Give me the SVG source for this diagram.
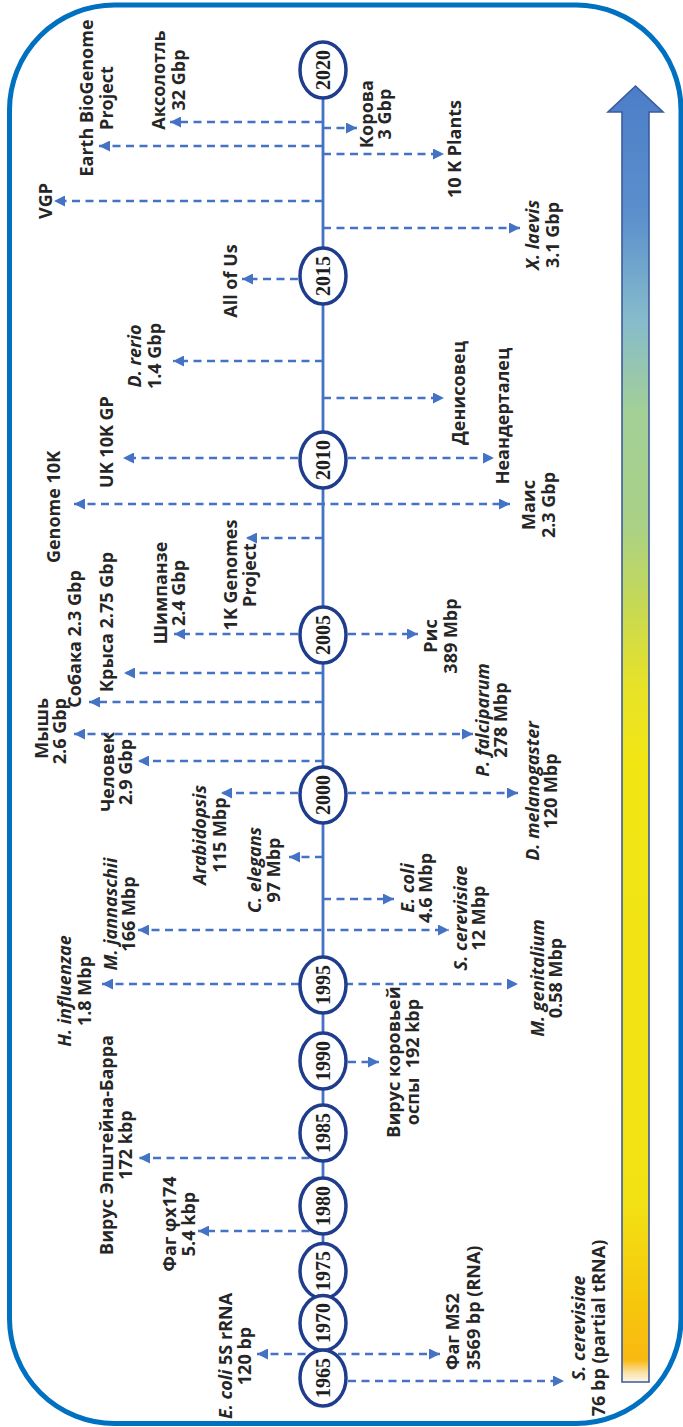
<svg xmlns="http://www.w3.org/2000/svg" width="683" height="1427" viewBox="0 0 683 1427">
<defs>
  <linearGradient id="scale" x1="0" y1="86" x2="0" y2="1382" gradientUnits="userSpaceOnUse">
    <stop offset="0" stop-color="#4b7ec8"/>
    <stop offset="0.1" stop-color="#5b90cd"/>
    <stop offset="0.18" stop-color="#86bbcc"/>
    <stop offset="0.25" stop-color="#a3cf98"/>
    <stop offset="0.34" stop-color="#aad186"/>
    <stop offset="0.4" stop-color="#c6d955"/>
    <stop offset="0.46" stop-color="#e6e22a"/>
    <stop offset="0.52" stop-color="#f1e514"/>
    <stop offset="0.86" stop-color="#f2e214"/>
    <stop offset="0.94" stop-color="#f7c60c"/>
    <stop offset="0.983" stop-color="#f8b912"/>
    <stop offset="0.993" stop-color="#fbe2a8"/>
    <stop offset="1" stop-color="#fdf6e6"/>
  </linearGradient>
  <marker id="ah" viewBox="0 0 10 10" refX="10" refY="5" markerWidth="11" markerHeight="11" markerUnits="userSpaceOnUse" orient="auto-start-reverse">
    <path d="M0,0 L10,5 L0,10 z" fill="#4472c4"/>
  </marker>
</defs>
<style>
  .lbl { font-family: "Open Sans", "Liberation Sans", sans-serif; font-weight: 700; font-size: 18px; fill: #262626; text-anchor: middle; }
  .st { text-anchor: start; }
  .en { text-anchor: end; }
  .it { font-style: italic; }
  .yr { font-family: "Liberation Serif", serif; font-weight: 700; font-size: 20px; fill: #1e1e1e; text-anchor: middle; }
  .ring { fill: #fff; stroke: #1f3d8c; stroke-width: 3.5; }
  .link { fill: none; stroke: #4472c4; stroke-width: 2.7; stroke-dasharray: 8 5.5; marker-end: url(#ah); }
  .both { marker-start: url(#ah); }
  .axis { stroke: #4472c4; stroke-width: 2.8; fill: none; }
</style>

<!-- frame -->
<rect x="9.5" y="5" width="671.5" height="1418.5" rx="105" fill="none" stroke="#0070c0" stroke-width="5"/>

<!-- genome size scale arrow -->
<g id="scale-arrow">
  <polygon points="635.5,86 663,112 649,112 649,1382 622,1382 622,112 608,112" fill="url(#scale)" stroke="#3c5a9e" stroke-width="1.6"/>
</g>

<!-- dashed connectors -->
<g id="connectors">
  <path class="link" d="M323,122 H170"/>
  <path class="link" d="M323,128 H357"/>
  <path class="link" d="M323,146 H99"/>
  <path class="link" d="M323,154 H444"/>
  <path class="link" d="M323,201 H54"/>
  <path class="link" d="M323,228 H520"/>
  <path class="link" d="M298,279 H242"/>
  <path class="link" d="M323,361 H173"/>
  <path class="link" d="M323,398 H444"/>
  <path class="link" d="M298,458 H123"/>
  <path class="link" d="M348,458 H494"/>
  <path class="link both" d="M74,504 H510"/>
  <path class="link" d="M323,538 H246"/>
  <path class="link" d="M298,634 H174"/>
  <path class="link" d="M348,634 H418"/>
  <path class="link" d="M323,673 H124"/>
  <path class="link" d="M323,702 H89"/>
  <path class="link both" d="M74,734 H473"/>
  <path class="link" d="M323,761 H138"/>
  <path class="link" d="M298,793 H221"/>
  <path class="link" d="M348,793 H518"/>
  <path class="link" d="M323,857 H289"/>
  <path class="link" d="M323,899 H394"/>
  <path class="link both" d="M138,930 H449"/>
  <path class="link both" d="M102,984 H518"/>
  <path class="link" d="M348,1062 H379"/>
  <path class="link" d="M323,1158 H139"/>
  <path class="link" d="M323,1231 H198"/>
  <path class="link both" d="M257,1354 H440"/>
  <path class="link" d="M348,1381 H564"/>
</g>

<!-- time axis -->
<path id="axis" class="axis" d="M323,97 V1352"/>

<!-- year nodes -->
<g id="y2020"><ellipse class="ring" cx="323" cy="70" rx="23" ry="28"/><text class="yr" transform="translate(329.5,70) rotate(-90)">2020</text></g>
<g id="y2015"><ellipse class="ring" cx="323" cy="276" rx="23" ry="28"/><text class="yr" transform="translate(329.5,276) rotate(-90)">2015</text></g>
<g id="y2010"><ellipse class="ring" cx="323" cy="460" rx="23" ry="28"/><text class="yr" transform="translate(329.5,460) rotate(-90)">2010</text></g>
<g id="y2005"><ellipse class="ring" cx="323" cy="635" rx="23" ry="28"/><text class="yr" transform="translate(329.5,635) rotate(-90)">2005</text></g>
<g id="y2000"><ellipse class="ring" cx="323" cy="795" rx="23" ry="28"/><text class="yr" transform="translate(329.5,795) rotate(-90)">2000</text></g>
<g id="y1995"><ellipse class="ring" cx="323" cy="985" rx="23" ry="28"/><text class="yr" transform="translate(329.5,985) rotate(-90)">1995</text></g>
<g id="y1990"><ellipse class="ring" cx="323" cy="1061" rx="23" ry="28"/><text class="yr" transform="translate(329.5,1061) rotate(-90)">1990</text></g>
<g id="y1985"><ellipse class="ring" cx="323" cy="1133" rx="23" ry="28"/><text class="yr" transform="translate(329.5,1133) rotate(-90)">1985</text></g>
<g id="y1980"><ellipse class="ring" cx="323" cy="1206" rx="23" ry="28"/><text class="yr" transform="translate(329.5,1206) rotate(-90)">1980</text></g>
<g id="y1975"><ellipse class="ring" cx="323" cy="1271" rx="23" ry="27.5"/><text class="yr" transform="translate(329.5,1271) rotate(-90)">1975</text></g>
<g id="y1970"><ellipse class="ring" cx="323" cy="1323" rx="23" ry="27.5"/><text class="yr" transform="translate(329.5,1323) rotate(-90)">1970</text></g>
<g id="y1965"><ellipse class="ring" cx="323" cy="1378" rx="23" ry="28"/><text class="yr" transform="translate(329.5,1378) rotate(-90)">1965</text></g>

<!-- genome labels -->
<g id="ebg"><text class="lbl" transform="translate(93,98) rotate(-90)"><tspan x="0" y="0">Earth BioGenome</tspan><tspan x="0" dy="20">Project</tspan></text></g>
<g id="axolotl"><text class="lbl" transform="translate(165,80) rotate(-90)"><tspan x="0" y="0">Аксолотль</tspan><tspan x="0" dy="19.5">32 Gbp</tspan></text></g>
<g id="cow"><text class="lbl" transform="translate(373,114) rotate(-90)"><tspan x="0" y="0">Корова</tspan><tspan x="0" dy="18">3 Gbp</tspan></text></g>
<g id="plants10k"><text class="lbl" transform="translate(461,149) rotate(-90)">10 K Plants</text></g>
<g id="vgp"><text class="lbl" transform="translate(52,201) rotate(-90)">VGP</text></g>
<g id="xlaevis"><text class="lbl" transform="translate(539,235) rotate(-90)"><tspan x="0" y="0" class="it">X. laevis</tspan><tspan x="0" dy="20">3.1 Gbp</tspan></text></g>
<g id="allofus"><text class="lbl" transform="translate(237,281) rotate(-90)">All of Us</text></g>
<g id="drerio"><text class="lbl" transform="translate(141,356) rotate(-90)"><tspan x="0" y="0" class="it">D. rerio</tspan><tspan x="0" dy="20">1.4 Gbp</tspan></text></g>
<g id="denisova"><text class="lbl" transform="translate(465,393) rotate(-90)">Денисовец</text></g>
<g id="uk10k"><text class="lbl" transform="translate(113,442) rotate(-90)">UK 10K GP</text></g>
<g id="neanderthal"><text class="lbl" transform="translate(509,416) rotate(-90)">Неандерталец</text></g>
<g id="genome10k"><text class="lbl" transform="translate(60,507) rotate(-90)">Genome 10K</text></g>
<g id="maize"><text class="lbl" transform="translate(535,505) rotate(-90)"><tspan x="0" y="0">Маис</tspan><tspan x="0" dy="20">2.3 Gbp</tspan></text></g>
<g id="g1k"><text class="lbl" transform="translate(237,575) rotate(-90)"><tspan x="0" y="0">1K Genomes</tspan><tspan x="0" dy="19">Project</tspan></text></g>
<g id="chimp"><text class="lbl" transform="translate(167,593) rotate(-90)"><tspan x="0" y="0">Шимпанзе</tspan><tspan x="0" dy="18">2.4 Gbp</tspan></text></g>
<g id="rice"><text class="lbl" transform="translate(437,636) rotate(-90)"><tspan x="0" y="0">Рис</tspan><tspan x="0" dy="20">389 Mbp</tspan></text></g>
<g id="rat"><text class="lbl" transform="translate(113,622) rotate(-90)">Крыса 2.75 Gbp</text></g>
<g id="dog"><text class="lbl" transform="translate(81,639) rotate(-90)">Собака 2.3 Gbp</text></g>
<g id="mouse"><text class="lbl en" transform="translate(48,698) rotate(-90)"><tspan x="0" y="0">Мышь</tspan><tspan x="0" dy="18">2.6 Gbp</tspan></text></g>
<g id="pfalciparum"><text class="lbl" transform="translate(489,720) rotate(-90)"><tspan x="0" y="0" class="it">P. falciparum</tspan><tspan x="0" dy="18">278 Mbp</tspan></text></g>
<g id="human"><text class="lbl" transform="translate(114,772) rotate(-90)"><tspan x="0" y="0">Человек</tspan><tspan x="0" dy="18">2.9 Gbp</tspan></text></g>
<g id="arabidopsis"><text class="lbl" transform="translate(206,835) rotate(-90)"><tspan x="0" y="0" class="it">Arabidopsis</tspan><tspan x="0" dy="20">115 Mbp</tspan></text></g>
<g id="dmelanogaster"><text class="lbl" transform="translate(539,791) rotate(-90)"><tspan x="0" y="0" class="it">D. melanogaster</tspan><tspan x="0" dy="18">120 Mbp</tspan></text></g>
<g id="celegans"><text class="lbl" transform="translate(261,870) rotate(-90)"><tspan x="0" y="0" class="it">C. elegans</tspan><tspan x="0" dy="19">97 Mbp</tspan></text></g>
<g id="ecoli"><text class="lbl" transform="translate(414,888) rotate(-90)"><tspan x="0" y="0" class="it">E. coli</tspan><tspan x="0" dy="18">4.6 Mbp</tspan></text></g>
<g id="mjannaschii"><text class="lbl" transform="translate(117,914) rotate(-90)"><tspan x="0" y="0" class="it">M. jannaschii</tspan><tspan x="0" dy="18">166 Mbp</tspan></text></g>
<g id="scerevisiae96"><text class="lbl" transform="translate(467,918) rotate(-90)"><tspan x="0" y="0" class="it">S. cerevisiae</tspan><tspan x="0" dy="18">12 Mbp</tspan></text></g>
<g id="hinfluenzae"><text class="lbl" transform="translate(71,991) rotate(-90)"><tspan x="0" y="0" class="it">H. influenzae</tspan><tspan x="0" dy="20">1.8 Mbp</tspan></text></g>
<g id="mgenitalium"><text class="lbl" transform="translate(544,978) rotate(-90)"><tspan x="0" y="0" class="it">M. genitalium</tspan><tspan x="0" dy="18">0.58 Mbp</tspan></text></g>
<g id="vaccinia"><text class="lbl" transform="translate(400,1062) rotate(-90)"><tspan x="0" y="0">Вирус коровьей</tspan><tspan x="0" dy="19">оспы&#160; 192 kbp</tspan></text></g>
<g id="ebv"><text class="lbl" transform="translate(113,1145) rotate(-90)"><tspan x="0" y="0">Вирус Эпштейна-Барра</tspan><tspan x="0" dy="19">172 kbp</tspan></text></g>
<g id="phix174"><text class="lbl" transform="translate(176,1224) rotate(-90)"><tspan x="0" y="0">Фаг φx174</tspan><tspan x="0" dy="19">5.4 kbp</tspan></text></g>
<g id="ecoli5s"><text class="lbl" transform="translate(232,1356) rotate(-90)"><tspan x="0" y="0"><tspan class="it">E. coli</tspan> 5S rRNA</tspan><tspan x="0" dy="19">120 bp</tspan></text></g>
<g id="ms2"><text class="lbl st" transform="translate(459,1370) rotate(-90)"><tspan x="0" y="0">Фаг MS2</tspan><tspan x="0" dy="21">3569 bp (RNA)</tspan></text></g>
<g id="scerevisiae65"><text class="lbl" transform="translate(585,1328) rotate(-90)"><tspan x="0" y="0" class="it">S. cerevisiae</tspan><tspan x="0" dy="20">76 bp (partial tRNA)</tspan></text></g>
</svg>
